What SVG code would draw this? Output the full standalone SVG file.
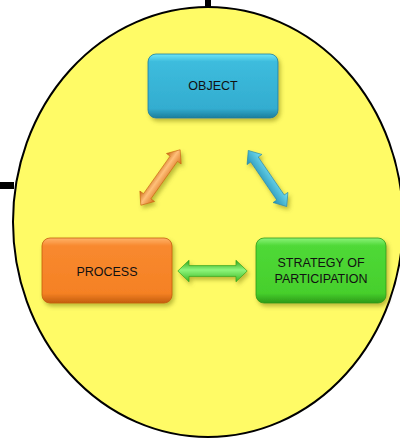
<svg xmlns="http://www.w3.org/2000/svg" width="400" height="439" viewBox="0 0 400 439">
<style>
.lbl{font-family:"Liberation Sans",Arial,sans-serif;font-size:12.5px;fill:#111;text-anchor:middle}
.stub{fill:#000}
</style>
<defs>
<linearGradient id="gBlue" x1="0" y1="0" x2="0" y2="1"><stop offset="0" stop-color="#6FE6F5"/><stop offset="0.12" stop-color="#3DBCDD"/><stop offset="0.85" stop-color="#33ADD0"/><stop offset="1" stop-color="#1C7E9C"/></linearGradient>
<linearGradient id="gOrange" x1="0" y1="0" x2="0" y2="1"><stop offset="0" stop-color="#FFB36A"/><stop offset="0.12" stop-color="#F8892F"/><stop offset="0.85" stop-color="#F58124"/><stop offset="1" stop-color="#C45E0E"/></linearGradient>
<linearGradient id="gGreen" x1="0" y1="0" x2="0" y2="1"><stop offset="0" stop-color="#8BF37A"/><stop offset="0.12" stop-color="#4FD937"/><stop offset="0.85" stop-color="#46CF2C"/><stop offset="1" stop-color="#2E9A18"/></linearGradient>
<linearGradient id="aBlue" x1="0" y1="-1" x2="0" y2="1" gradientUnits="objectBoundingBox"><stop offset="0" stop-color="#1F86A8"/><stop offset="0.45" stop-color="#7FEAFB"/><stop offset="1" stop-color="#2390B5"/></linearGradient>
<linearGradient id="aOrange" x1="0" y1="0" x2="0" y2="1"><stop offset="0" stop-color="#C86410"/><stop offset="0.45" stop-color="#FFC07A"/><stop offset="1" stop-color="#D8711A"/></linearGradient>
<linearGradient id="aGreen" x1="0" y1="0" x2="0" y2="1"><stop offset="0" stop-color="#2FA31A"/><stop offset="0.45" stop-color="#8EF57C"/><stop offset="1" stop-color="#3BB722"/></linearGradient>
<filter id="sh" x="-20%" y="-20%" width="150%" height="160%"><feDropShadow dx="2" dy="3" stdDeviation="2" flood-color="#6b6b00" flood-opacity="0.45"/></filter>
<path id="dbl" d="M-34,0 L-23,-9 L-23,-4.5 L23,-4.5 L23,-9 L34,0 L23,9 L23,4.5 L-23,4.5 L-23,9 Z"/>
</defs>
<rect class="stub" x="205" y="0" width="6" height="8"/>
<rect class="stub" x="0" y="182" width="14" height="7"/>
<ellipse cx="208" cy="222" rx="195" ry="215" fill="#FFFB66" stroke="#000" stroke-width="2"/>
<g id="connectors">
<g filter="url(#sh)"><use href="#dbl" transform="translate(160.5,177.5) rotate(-54.7)" fill="url(#aOrange)" stroke="#C86410" stroke-width="0.6"/></g>
<g filter="url(#sh)"><use href="#dbl" transform="translate(267.5,178.5) rotate(55.6)" fill="url(#aBlue)" stroke="#1F86A8" stroke-width="0.6"/></g>
<g filter="url(#sh)"><use href="#dbl" transform="translate(212.5,271) scale(1.02,1.2)" fill="url(#aGreen)" stroke="#2FA31A" stroke-width="0.6"/></g>
</g>
<g id="object">
<rect x="148" y="54" width="130" height="64" rx="8" fill="url(#gBlue)" stroke="#1C7E9C" stroke-width="0.8" filter="url(#sh)"/>
<text class="lbl" x="213" y="89.5">OBJECT</text>
</g>
<g id="process">
<rect x="42" y="238" width="130" height="65" rx="8" fill="url(#gOrange)" stroke="#C45E0E" stroke-width="0.8" filter="url(#sh)"/>
<text class="lbl" x="107" y="275.5">PROCESS</text>
</g>
<g id="strategy">
<rect x="256" y="238" width="130" height="65" rx="8" fill="url(#gGreen)" stroke="#2E9A18" stroke-width="0.8" filter="url(#sh)"/>
<text class="lbl" x="321" y="267">STRATEGY OF</text>
<text class="lbl" x="321" y="283">PARTICIPATION</text>
</g>
</svg>
